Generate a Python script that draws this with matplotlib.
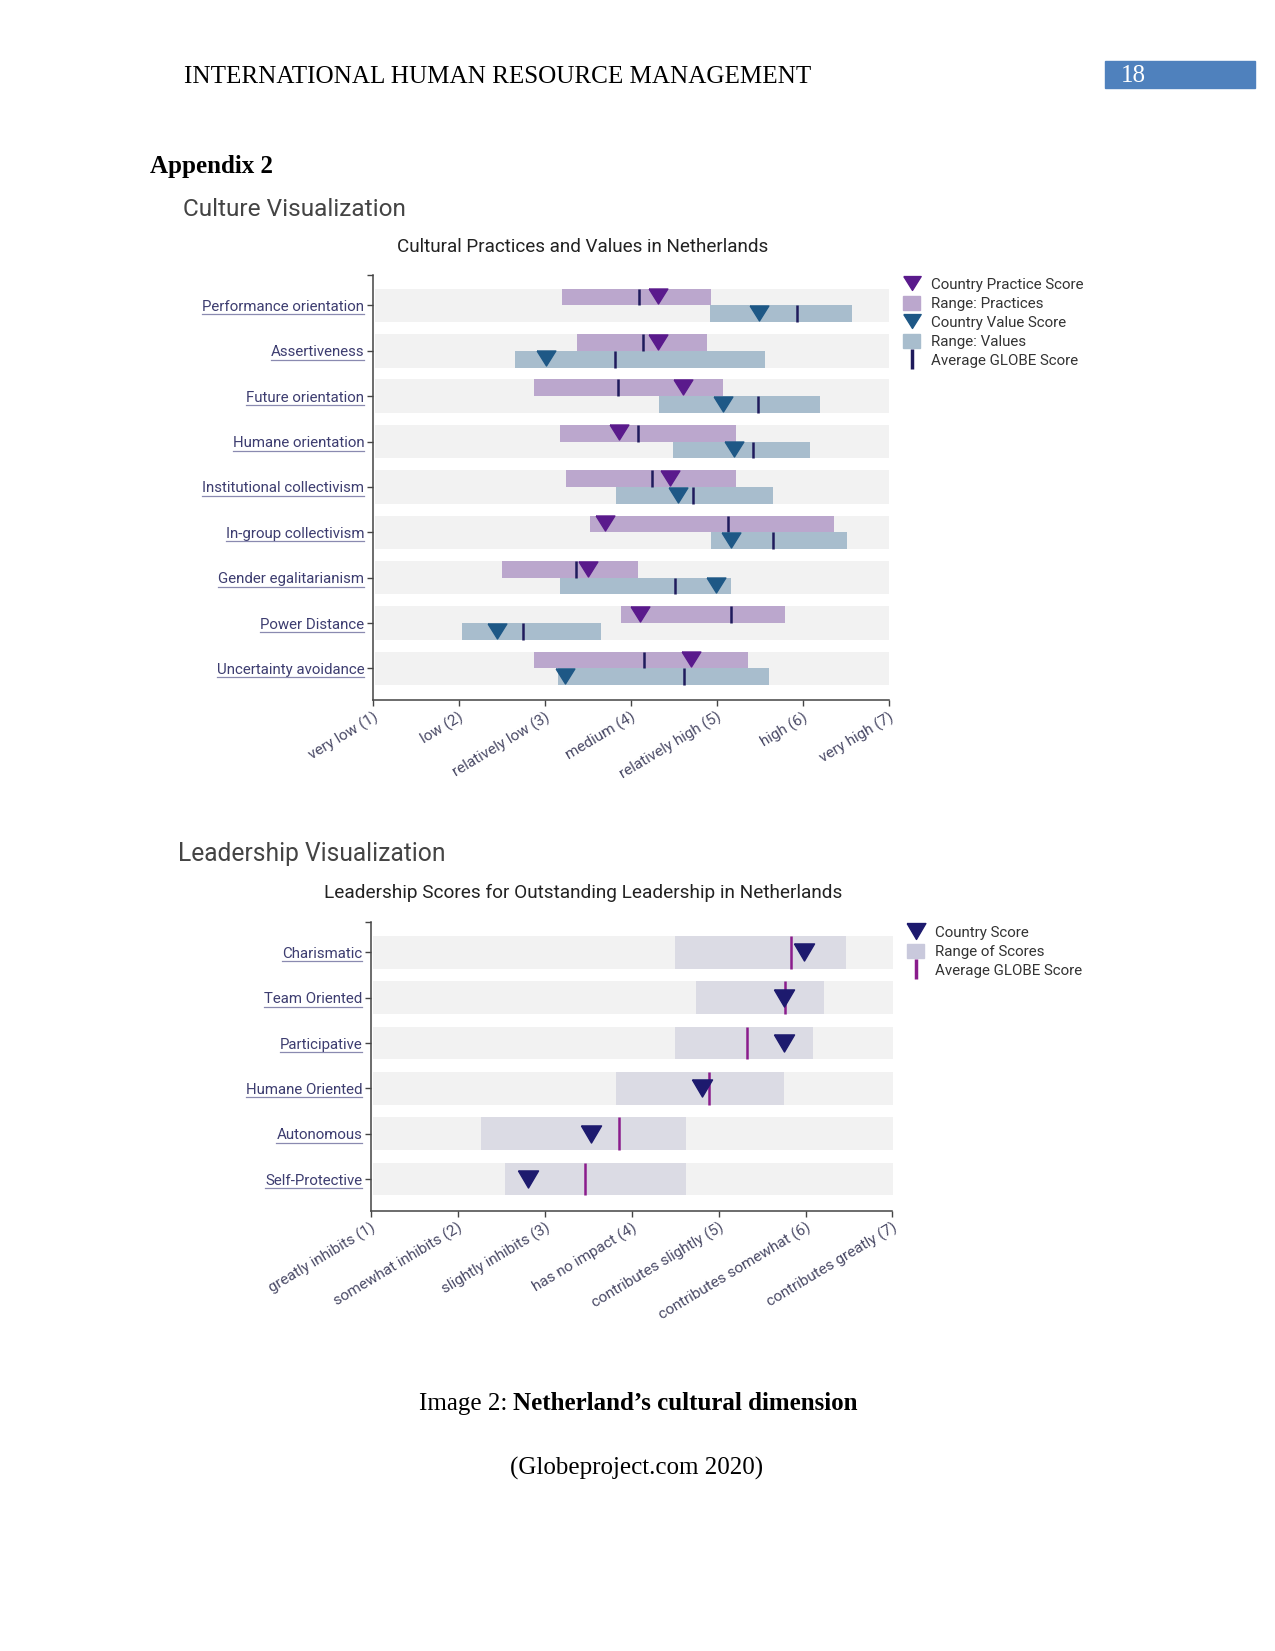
import matplotlib
matplotlib.use("Agg")
import matplotlib.pyplot as plt
import numpy as np
from matplotlib.lines import Line2D
from matplotlib.patches import Patch, Rectangle

# culture data (GLOBE scale 1-7)
dims = ["Performance orientation", "Assertiveness", "Future orientation",
        "Humane orientation", "Institutional collectivism", "In-group collectivism",
        "Gender egalitarianism", "Power Distance", "Uncertainty avoidance"]
prac_lo = [3.20, 3.38, 2.88, 3.18, 3.25, 3.53, 2.50, 3.89, 2.88]
prac_hi = [4.94, 4.89, 5.07, 5.23, 5.22, 6.36, 4.08, 5.80, 5.37]
prac_avg = [4.10, 4.14, 3.85, 4.09, 4.25, 5.13, 3.37, 5.17, 4.16]
prac_nl = [4.32, 4.32, 4.61, 3.86, 4.46, 3.70, 3.50, 4.11, 4.70]
val_lo = [4.92, 2.66, 4.33, 4.49, 3.83, 4.94, 3.18, 2.04, 3.16]
val_hi = [6.58, 5.56, 6.20, 6.09, 5.65, 6.52, 5.17, 3.65, 5.61]
val_avg = [5.94, 3.82, 5.48, 5.42, 4.73, 5.66, 4.51, 2.75, 4.62]
val_nl = [5.49, 3.02, 5.07, 5.20, 4.55, 5.17, 4.99, 2.45, 3.24]
culture_ticks = ["very low (1)", "low (2)", "relatively low (3)", "medium (4)",
                 "relatively high (5)", "high (6)", "very high (7)"]

# leadership data
lead = ["Charismatic", "Team Oriented", "Participative", "Humane Oriented",
        "Autonomous", "Self-Protective"]
lead_lo = [4.50, 4.74, 4.50, 3.82, 2.27, 2.55]
lead_hi = [6.46, 6.21, 6.09, 5.75, 4.63, 4.62]
lead_avg = [5.83, 5.76, 5.33, 4.89, 3.86, 3.46]
lead_nl = [5.98, 5.75, 5.75, 4.81, 3.53, 2.81]
lead_ticks = ["greatly inhibits (1)", "somewhat inhibits (2)", "slightly inhibits (3)",
              "has no impact (4)", "contributes slightly (5)", "contributes somewhat (6)",
              "contributes greatly (7)"]

W, H = 1275, 1651
fig = plt.figure(figsize=(W / 100, H / 100), dpi=100)
plt.rcParams['font.family'] = ['Roboto', 'DejaVu Sans']

def px_axes(left, top, right, bottom):
    return fig.add_axes([left / W, 1 - bottom / H, (right - left) / W, (bottom - top) / H])

page = fig.add_axes([0, 0, 1, 1])
page.set_xlim(0, W)
page.set_ylim(H, 0)
page.axis("off")

serif = "Liberation Serif"
page.text(184, 77, "INTERNATIONAL HUMAN RESOURCE MANAGEMENT", family=serif, fontsize=18.1,
          va="center", ha="left", color="black")
page.add_patch(Rectangle((1105, 61), 150, 27, color="#4f81bd"))
page.text(1121, 76, "18", family=serif, fontsize=18, color="white", va="center")
page.text(150, 167, "Appendix 2", family=serif, fontsize=18, weight="bold", va="center")
page.text(183, 209, "Culture Visualization", fontsize=17.6, color="#444444", va="center")
page.text(583, 247, "Cultural Practices and Values in Netherlands", fontsize=13.6,
          color="#222222", va="center", ha="center")
page.text(178, 854, "Leadership Visualization", fontsize=17.7, color="#444444", va="center")
page.text(583, 893, "Leadership Scores for Outstanding Leadership in Netherlands",
          fontsize=13.7, color="#222222", va="center", ha="center")
page.text(507, 1404, "Image 2:", family=serif, fontsize=18, va="center", ha="right")
page.text(513, 1404, "Netherland\u2019s cultural dimension", family=serif, fontsize=18,
          weight="bold", va="center", ha="left")
page.text(637, 1468, "(Globeproject.com 2020)", family=serif, fontsize=18,
          va="center", ha="center")

band_c = "#f2f2f2"
lab_c = "#3d3d70"
tick_c = "#4a4a66"
axis_c = "#444444"
tri_c = [(-1, 0.8), (1, 0.8), (0, -0.8), (-1, 0.8)]
tri_l = [(-1, 0.85), (1, 0.85), (0, -0.85), (-1, 0.85)]


def style_axis(ax, labels, xlabels, top):
    ax.set_xlim(1, 7)
    ax.set_xticks(range(1, 8))
    ax.set_xticklabels(xlabels, rotation=31, ha="right", va="top",
                       rotation_mode="anchor", fontsize=11, color=tick_c)
    ax.set_yticks(range(len(labels)))
    ax.set_yticklabels(labels, fontsize=10.8, color=lab_c)
    ax.set_yticks([top], minor=True)
    for s in ["top", "right"]:
        ax.spines[s].set_visible(False)
    for s in ["left", "bottom"]:
        ax.spines[s].set_color(axis_c)
        ax.spines[s].set_linewidth(1.1)
    ax.tick_params(axis="both", which="both", length=4, width=1, color=axis_c, pad=2)
    ax.tick_params(axis="x", pad=3)
    ax.set_facecolor("none")


# ---- culture chart
ax1 = px_axes(372.7, 274.8, 888.6, 700)
y1 = np.arange(len(dims))
ax1.set_ylim(8.694, -0.672)
bh = 0.74
ax1.barh(y1, 6 - 0.03, left=1.03, height=bh, color=band_c, zorder=1)
ax1.barh(y1 - bh / 4, np.array(prac_hi) - np.array(prac_lo), left=prac_lo, height=bh / 2,
         color="#bba7cd", zorder=2)
ax1.barh(y1 + bh / 4, np.array(val_hi) - np.array(val_lo), left=val_lo, height=bh / 2,
         color="#a8bdcd", zorder=2)
ax1.vlines(prac_avg, y1 - bh / 2, y1, color="#1f1b5c", lw=1.8, zorder=3)
ax1.vlines(val_avg, y1, y1 + bh / 2, color="#1f1b5c", lw=1.8, zorder=3)
ax1.plot(prac_nl, y1 - 0.2, ls="none", marker=tri_c, markersize=13.5, color="#5a1a8c", zorder=4)
ax1.plot(val_nl, y1 + 0.17, ls="none", marker=tri_c, markersize=13.5, color="#1e5886", zorder=4)
style_axis(ax1, dims, culture_ticks, -0.672)

h1 = [Line2D([], [], ls="none", marker=tri_c, markersize=12.5, color="#5a1a8c"),
      Patch(color="#bba7cd"),
      Line2D([], [], ls="none", marker=tri_c, markersize=12.5, color="#1e5886"),
      Patch(color="#a8bdcd"),
      Line2D([], [], ls="none", marker="|", markersize=14, mew=2.5, color="#1f1b5c")]
fig.legend(h1, ["Country Practice Score", "Range: Practices", "Country Value Score",
                "Range: Values", "Average GLOBE Score"],
           loc="upper left", bbox_to_anchor=(903 / W, 1 - 277 / H), frameon=False,
           fontsize=10.9, labelcolor="#333333", borderpad=0, borderaxespad=0,
           handlelength=1.15, handleheight=1.0, handletextpad=0.7, labelspacing=0.27)

# ---- leadership chart
ax2 = px_axes(370.7, 922, 892.5, 1210.5)
y2 = np.arange(len(lead))
ax2.set_ylim(5.695, -0.673)
ax2.barh(y2, 6 - 0.03, left=1.03, height=0.72, color=band_c, zorder=1)
ax2.barh(y2, np.array(lead_hi) - np.array(lead_lo), left=lead_lo, height=0.72,
         color="#dbdbe4", zorder=2)
ax2.vlines(lead_avg, y2 - 0.36, y2 + 0.36, color="#8a1c8c", lw=1.8, zorder=3)
ax2.plot(lead_nl, y2, ls="none", marker=tri_l, markersize=14.5, color="#1d1a6e", zorder=4)
style_axis(ax2, lead, lead_ticks, -0.673)

h2 = [Line2D([], [], ls="none", marker=tri_l, markersize=13.5, color="#1d1a6e"),
      Patch(color="#c9c9dc"),
      Line2D([], [], ls="none", marker="|", markersize=15, mew=2.5, color="#8a1c8c")]
fig.legend(h2, ["Country Score", "Range of Scores", "Average GLOBE Score"],
           loc="upper left", bbox_to_anchor=(907 / W, 1 - 925 / H), frameon=False,
           fontsize=10.9, labelcolor="#333333", borderpad=0, borderaxespad=0,
           handlelength=1.15, handleheight=1.0, handletextpad=0.7, labelspacing=0.27)

# underline the y tick labels like links
fig.canvas.draw()
r = fig.canvas.get_renderer()
for ax in (ax1, ax2):
    for t in ax.get_yticklabels():
        bb = t.get_window_extent(r)
        yy = H - bb.y0 + 0.5
        page.plot([bb.x0, bb.x1], [yy, yy], color="#8a8ab0", lw=0.9)

fig.savefig("out.png", dpi=100)
